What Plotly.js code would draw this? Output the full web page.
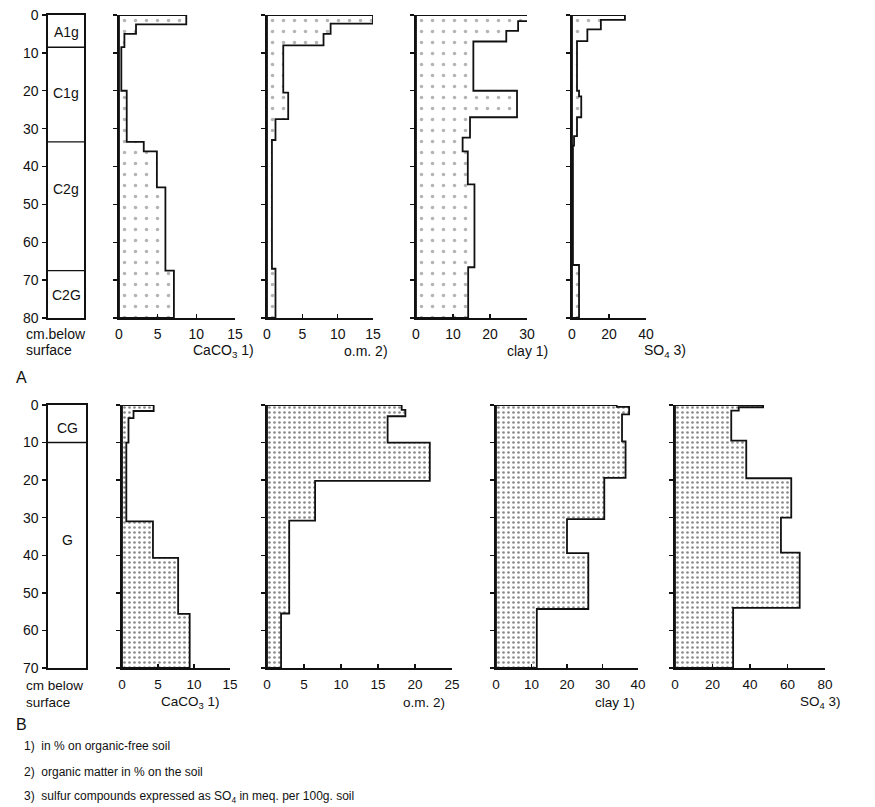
<!DOCTYPE html>
<html><head><meta charset="utf-8">
<script src="https://cdn.plot.ly/plotly-3.0.1.min.js"></script>
<style>body{margin:0;background:#fff}#chart{width:875px;height:807px}</style>
</head><body><div id="chart"></div>
<script>
// ---------- DATA ----------
// Profile A horizons (cm below surface)
const horizonsA = ['A1g', 'C1g', 'C2g', 'C2G'];
const horizonTopA = [0, 8.5, 33.5, 67.5];
const horizonLabelA = [4.5, 20.5, 46, 74];
// Profile B horizons
const horizonsB = ['CG', 'G'];
const horizonTopB = [0, 10];
const horizonLabelB = [6, 36];

// Profile A: bottom depth of each layer and its value
const caco3A_depth = [2.5, 5, 8.5, 20, 33.5, 36, 45.5, 67.5, 80];
const caco3A_val   = [8.7, 2.2, 0.7, 0.3, 1.0, 3.2, 4.9, 6.0, 7.1];
const omA_depth    = [2.3, 5, 8, 20.5, 27.5, 33, 67, 80];
const omA_val      = [15, 9, 8, 2.3, 3.0, 1.2, 0.7, 1.2];
const clayA_depth  = [1.6, 4.2, 7, 20, 27, 32.4, 36, 44.7, 66.6, 80];
const clayA_val    = [30.3, 27.6, 24.4, 15.5, 27.3, 14.6, 12.6, 14.0, 15.8, 14.1];
const so4A_depth   = [1.3, 3.8, 6.9, 20, 21.5, 27, 32, 34.5, 66, 80];
const so4A_val     = [28.6, 15.6, 8.3, 2.7, 3.8, 5.0, 2.7, 1.1, 0.5, 3.8];

// Profile B
const caco3B_depth = [1.6, 3.5, 10, 31, 40.7, 55.6, 70];
const caco3B_val   = [4.4, 1.6, 0.9, 0.6, 4.3, 7.8, 9.4];
const omB_depth    = [1.3, 3, 10, 20.2, 30.8, 55.5, 70];
const omB_val      = [18.2, 18.7, 16.3, 22.0, 6.5, 3.0, 1.9];
const clayB_depth  = [0.5, 2.5, 9.7, 19.4, 30.4, 39.4, 54.3, 70];
const clayB_val    = [34, 37.5, 35.5, 36.5, 30.5, 20, 26, 11.5];
const so4B_depth   = [0.6, 1.5, 9.5, 19.5, 30, 39.3, 54, 70];
const so4B_val     = [47, 34, 30, 38, 62, 56.5, 66.5, 31];

// axis ranges / ticks
const rangesA = [15, 15, 30, 40];
const dticksA = [5, 5, 10, 20];
const rangesB = [15, 25, 40, 80];
const dticksB = [5, 5, 10, 20];
const titlesA = ['CaCO<sub>3</sub> 1)', 'o.m. 2)', 'clay 1)', 'SO<sub>4</sub> 3)'];
const titlesB = ['CaCO<sub>3</sub> 1)', 'o.m. 2)', 'clay 1)', 'SO<sub>4</sub> 3)'];
const footnotes = [
  '1)  in % on organic-free soil',
  '2)  organic matter in % on the soil',
  '3)  sulfur compounds expressed as SO<sub>4</sub> in meq. per 100g. soil'
];

// ---------- LAYOUT HELPERS ----------
const W = 875, H = 807;
const FONT = 'Liberation Sans, Arial, sans-serif';
const xd = (a, b) => [a / W, b / W];
const yd = (top, bottom) => [1 - bottom / H, 1 - top / H];
const px = v => v / W, py = v => 1 - v / H;

// pixel frames
const rowA = {top: 15, bottom: 318, depth: 80};
const rowB = {top: 405, bottom: 668, depth: 70};
const profA = [48, 84], profB = [48, 86];
const panelsAx = [[119, 235], [267, 373], [416, 527], [572, 646]];
const panelsBx = [[122, 230], [267, 452], [496, 638], [675, 825]];
const titleRightA = [256, 390, 550, 688];
const titleRightB = [222, 447, 637, 843];

function stepPoly(depths, vals) {
  const xs = [0], ys = [0];
  let top = 0;
  for (let i = 0; i < vals.length; i++) {
    xs.push(vals[i], vals[i]);
    ys.push(top, depths[i]);
    top = depths[i];
  }
  xs.push(0, 0); ys.push(top, 0);
  return {xs, ys};
}

const traces = [];
const layout = {
  width: W, height: H, margin: {l: 0, r: 0, t: 0, b: 0},
  paper_bgcolor: '#fff', plot_bgcolor: 'rgba(0,0,0,0)',
  showlegend: false, font: {family: FONT, color: '#111', size: 14},
  annotations: [], shapes: []
};

let axN = 1;
function axName(n, k) { return k + (n === 1 ? '' : n); }

function addProfile(row, xr, names, tops, labelDepths) {
  const n = axN++;
  layout[axName(n, 'xaxis')] = {
    domain: xd(xr[0], xr[1]), range: [0, 1], anchor: axName(n, 'y'),
    showline: true, mirror: true, linecolor: '#111', linewidth: 1.6,
    showgrid: false, zeroline: false, ticks: '', showticklabels: false, fixedrange: true
  };
  layout[axName(n, 'yaxis')] = {
    domain: yd(row.top, row.bottom), range: [row.depth, 0], anchor: axName(n, 'x'),
    showline: true, mirror: true, linecolor: '#111', linewidth: 1.6,
    showgrid: false, zeroline: false, ticks: 'outside', ticklen: 4, tickwidth: 1.4,
    tickcolor: '#111', dtick: 10, tick0: 0, ticklabelstandoff: 1,
    tickfont: {family: FONT, size: 14, color: '#111'}, fixedrange: true
  };
  traces.push({x: [0.5], y: [0], xaxis: axName(n, 'x'), yaxis: axName(n, 'y'),
    mode: 'markers', marker: {opacity: 0}, hoverinfo: 'skip'});
  for (let i = 0; i < names.length; i++) {
    if (tops[i] > 0) {
      layout.shapes.push({type: 'line', xref: axName(n, 'x'), yref: axName(n, 'y'),
        x0: 0, x1: 1, y0: tops[i], y1: tops[i], line: {color: '#111', width: 1.4}});
    }
    layout.annotations.push({xref: axName(n, 'x'), yref: axName(n, 'y'),
      x: 0.5, y: labelDepths[i], text: names[i], showarrow: false,
      font: {family: FONT, size: 14, color: '#111'}});
  }
}

function addPanel(row, xr, range, dtick, depths, vals, pattern, tickFont) {
  const n = axN++;
  layout[axName(n, 'xaxis')] = {
    domain: xd(xr[0], xr[1]), range: [0, range], anchor: axName(n, 'y'),
    showline: true, linecolor: '#111', linewidth: 1.6, showgrid: false, zeroline: false,
    ticks: 'inside', ticklen: 4, tickwidth: 1.4, tickcolor: '#111', dtick: dtick, tick0: 0,
    ticklabelstandoff: 3, tickfont: tickFont, fixedrange: true
  };
  layout[axName(n, 'yaxis')] = {
    domain: yd(row.top, row.bottom), range: [row.depth, 0], anchor: axName(n, 'x'),
    showline: true, linecolor: '#111', linewidth: 1.6, showgrid: false, zeroline: false,
    ticks: 'outside', ticklen: 4, tickwidth: 1.4, tickcolor: '#111', dtick: 10, tick0: 0,
    showticklabels: false, fixedrange: true
  };
  const p = stepPoly(depths, vals);
  traces.push({x: p.xs, y: p.ys, xaxis: axName(n, 'x'), yaxis: axName(n, 'y'),
    mode: 'lines', fill: 'toself', fillcolor: 'rgba(0,0,0,0)',
    fillpattern: pattern, line: {color: '#111', width: 1.8}, hoverinfo: 'skip'});
}

const patA = {shape: '.', fgcolor: '#b4b4b4', bgcolor: '#ffffff', size: 11, solidity: 0.08};
const patB = {shape: '.', fgcolor: '#8a8a8a', bgcolor: '#ffffff', size: 5, solidity: 0.22};
const tfA = {family: FONT, size: 14, color: '#111'};
const tfB = {family: FONT, size: 13.5, color: '#111'};

addProfile(rowA, profA, horizonsA, horizonTopA, horizonLabelA);
const dataA = [[caco3A_depth, caco3A_val], [omA_depth, omA_val], [clayA_depth, clayA_val], [so4A_depth, so4A_val]];
dataA.forEach((d, i) => addPanel(rowA, panelsAx[i], rangesA[i], dticksA[i], d[0], d[1], patA, tfA));
addProfile(rowB, profB, horizonsB, horizonTopB, horizonLabelB);
const dataB = [[caco3B_depth, caco3B_val], [omB_depth, omB_val], [clayB_depth, clayB_val], [so4B_depth, so4B_val]];
dataB.forEach((d, i) => addPanel(rowB, panelsBx[i], rangesB[i], dticksB[i], d[0], d[1], patB, tfB));

function note(x, y, text, anchor, font) {
  layout.annotations.push({xref: 'paper', yref: 'paper', x: px(x), y: py(y), text: text,
    xanchor: anchor, yanchor: 'middle', showarrow: false, font: font});
}
titlesA.forEach((t, i) => note(titleRightA[i], 351, t, 'right', {family: FONT, size: 14, color: '#111'}));
titlesB.forEach((t, i) => note(titleRightB[i], 702, t, 'right', {family: FONT, size: 13.5, color: '#111'}));
note(24, 334, 'cm.below', 'left', {family: FONT, size: 14, color: '#111'});
note(24, 350, 'surface', 'left', {family: FONT, size: 14, color: '#111'});
note(14, 378, 'A', 'left', {family: FONT, size: 16, color: '#111'});
note(24, 685, 'cm below', 'left', {family: FONT, size: 13.5, color: '#111'});
note(24, 702, 'surface', 'left', {family: FONT, size: 13.5, color: '#111'});
note(14, 724, 'B', 'left', {family: FONT, size: 16, color: '#111'});
footnotes.forEach((t, i) => note(22, 746 + i * 25.5, t, 'left', {family: FONT, size: 12, color: '#111'}));

Plotly.newPlot('chart', traces, layout, {staticPlot: true, displayModeBar: false});
</script>
</body></html>
